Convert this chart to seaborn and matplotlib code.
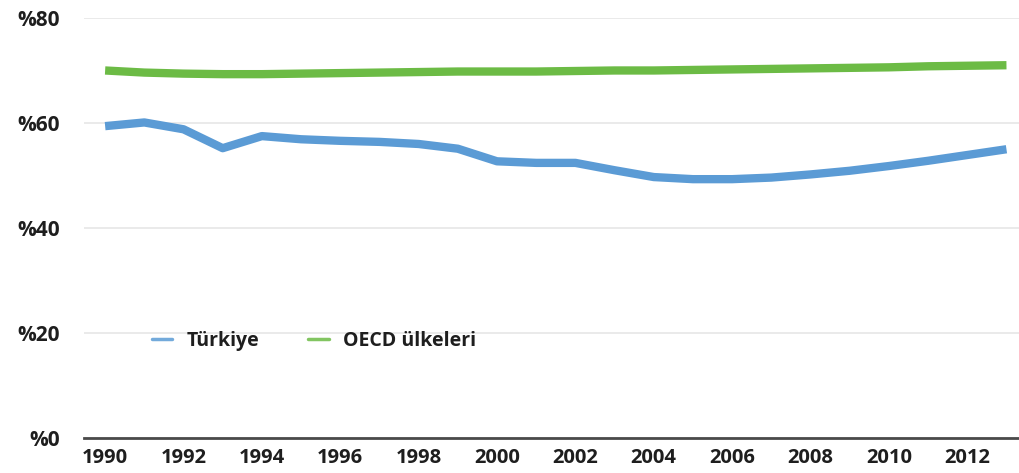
"""Türkiye vs OECD line chart."""

import matplotlib

matplotlib.use("Agg")
import matplotlib.pyplot as plt
import pandas as pd
import seaborn as sns
from matplotlib.lines import Line2D
from matplotlib.ticker import FuncFormatter, MultipleLocator

BLUE = "#5B9BD5"
GREEN = "#6CBB45"
TEXT = "#1E1E1E"

years = list(range(1990, 2014))
turkiye = [
    59.4, 60.1, 58.8, 55.2, 57.5, 56.9, 56.6, 56.4, 56.0, 55.1, 52.7, 52.4,
    52.4, 51.0, 49.7, 49.3, 49.3, 49.6, 50.2, 50.9, 51.8, 52.8, 53.9, 55.0,
]
oecd = [
    70.0, 69.6, 69.4, 69.3, 69.3, 69.4, 69.5, 69.6, 69.7, 69.8, 69.8, 69.8,
    69.9, 70.0, 70.0, 70.1, 70.2, 70.3, 70.4, 70.5, 70.6, 70.8, 70.9, 71.0,
]
series_names = ["Türkiye", "OECD ülkeleri"]

df = pd.concat(
    [
        pd.DataFrame({"year": years, "value": turkiye, "series": series_names[0]}),
        pd.DataFrame({"year": years, "value": oecd, "series": series_names[1]}),
    ]
)

sns.set_theme(style="white")
plt.rcParams["font.family"] = ["Open Sans", "DejaVu Sans"]

fig = plt.figure(figsize=(10.19, 4.73), dpi=100)
ax = fig.add_axes([0.0824, 0.074, 0.9176, 0.888])

sns.lineplot(
    data=df,
    x="year",
    y="value",
    hue="series",
    hue_order=series_names,
    palette=[BLUE, GREEN],
    linewidth=6,
    legend=False,
    ax=ax,
    solid_capstyle="butt",
    solid_joinstyle="round",
)

ax.set_xlim(1989.46, 2013.32)
ax.set_ylim(0, 80)
ax.yaxis.set_major_locator(MultipleLocator(20))
ax.yaxis.set_major_formatter(FuncFormatter(lambda v, _: f"%{int(v)}"))
ax.set_xticks(years[::2])
ax.grid(axis="y", color="#E6E6E6", linewidth=1.2)
ax.set_axisbelow(True)
for side in ["top", "right", "left"]:
    ax.spines[side].set_visible(False)
ax.spines["bottom"].set_color("#4A4A4A")
ax.spines["bottom"].set_linewidth(2)
ax.tick_params(axis="both", length=0, labelcolor=TEXT)
ax.tick_params(axis="y", pad=17, labelsize=15)
ax.tick_params(axis="x", pad=7, labelsize=14.5)
for label in ax.get_xticklabels() + ax.get_yticklabels():
    label.set_fontweight("bold")
ax.set_xlabel("")
ax.set_ylabel("")

handles = [
    Line2D([], [], color=BLUE, linewidth=2.5, alpha=0.85),
    Line2D([], [], color=GREEN, linewidth=2.5, alpha=0.85),
]
ax.legend(
    handles,
    series_names,
    loc="center left",
    bbox_to_anchor=(0.0727, 0.231),
    borderaxespad=0,
    borderpad=0,
    ncol=2,
    frameon=False,
    handlelength=1.05,
    handletextpad=0.75,
    columnspacing=2.5,
    prop={"weight": "bold", "size": 14},
    labelcolor=TEXT,
)

fig.savefig("out.png", dpi=100)
